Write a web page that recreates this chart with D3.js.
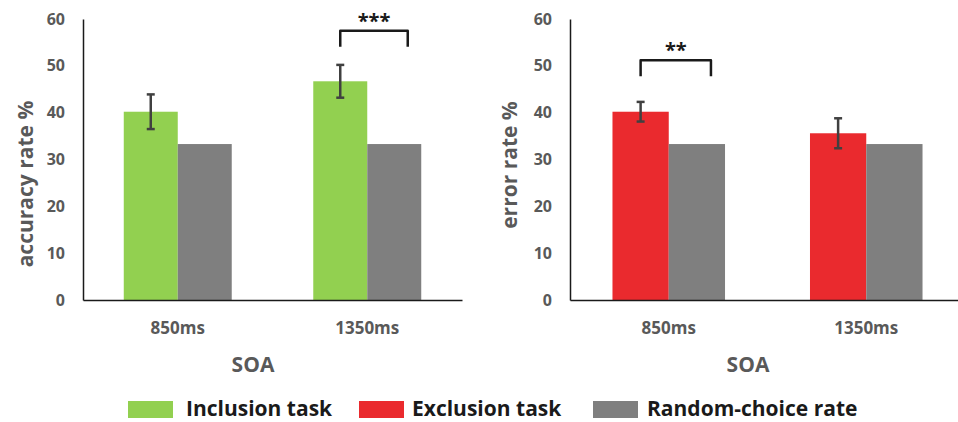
<!DOCTYPE html>
<html>
<head>
<meta charset="utf-8">
<script src="https://cdn.jsdelivr.net/npm/d3@7"></script>
<style>
  body { margin: 0; background: #fff; }
  text { font-family: "Open Sans", sans-serif; font-weight: 700; }
</style>
</head>
<body>
<div id="chart"></div>
<script>
// data
const categories = ["850ms", "1350ms"];
const inclusionMean = [40.2, 46.7];
const inclusionErr = [3.7, 3.5];
const exclusionMean = [40.2, 35.6];
const exclusionErr = [2.1, 3.2];
const randomRate = [33.3, 33.3];
const yTicks = [0, 10, 20, 30, 40, 50, 60];
const legendLabels = ["Inclusion task", "Exclusion task", "Random-choice rate"];

const green = "#92d050", red = "#ea2a2e", gray = "#7f7f7f";
const textGray = "#595959";

const svg = d3.select("#chart")
  .append("svg")
    .attr("width", 958)
    .attr("height", 422);

const y = d3.scaleLinear().domain([0, 60]).range([300, 19]);

function panel(opts) {
  const g = svg.append("g");

  const x = d3.scaleBand()
    .domain(categories)
    .range([opts.x0, opts.x1]);

  const xi = d3.scaleBand()
    .domain(["task", "random"])
    .range([0, x.bandwidth()])
    .paddingOuter(0.755);

  const rows = categories.map((c, i) => ({
    cat: c, mean: opts.mean[i], err: opts.err[i], rnd: randomRate[i]
  }));

  // bars
  g.selectAll("rect.task")
    .data(rows)
    .enter()
    .append("rect")
      .attr("x", d => x(d.cat) + xi("task"))
      .attr("y", d => y(d.mean))
      .attr("width", xi.bandwidth())
      .attr("height", d => y(0) - y(d.mean))
      .style("fill", opts.color);

  g.selectAll("rect.rnd")
    .data(rows)
    .enter()
    .append("rect")
      .attr("x", d => x(d.cat) + xi("random"))
      .attr("y", d => y(d.rnd))
      .attr("width", xi.bandwidth())
      .attr("height", d => y(0) - y(d.rnd))
      .style("fill", gray);

  // error bars
  const cx = d => x(d.cat) + xi("task") + xi.bandwidth() / 2;
  const eb = g.selectAll("g.err")
    .data(rows)
    .enter()
    .append("g")
      .style("stroke", "#404040")
      .style("stroke-width", 2.5);
  eb.append("line")
    .attr("x1", cx).attr("x2", cx)
    .attr("y1", d => y(d.mean + d.err))
    .attr("y2", d => y(d.mean - d.err));
  eb.append("line")
    .attr("x1", d => cx(d) - 4).attr("x2", d => cx(d) + 4)
    .attr("y1", d => y(d.mean + d.err)).attr("y2", d => y(d.mean + d.err));
  eb.append("line")
    .attr("x1", d => cx(d) - 4).attr("x2", d => cx(d) + 4)
    .attr("y1", d => y(d.mean - d.err)).attr("y2", d => y(d.mean - d.err));

  // y axis
  const yAxis = g.append("g")
    .attr("transform", `translate(${opts.x0}, 0)`)
    .call(d3.axisLeft(y).tickValues(yTicks).tickSize(0).tickPadding(18));
  yAxis.select(".domain").attr("stroke", "#1a1a1a").attr("stroke-width", 1.5);
  yAxis.selectAll("text")
    .style("font-size", "16px")
    .style("font-family", "Open Sans")
    .style("font-weight", 700)
    .attr("fill", textGray);

  // x axis
  const xAxis = g.append("g")
    .attr("transform", `translate(0, ${y(0)})`)
    .call(d3.axisBottom(x).tickSize(0).tickPadding(22));
  xAxis.select(".domain").attr("stroke", "#1a1a1a").attr("stroke-width", 1.5);
  xAxis.selectAll("text")
    .style("font-size", "17px")
    .style("font-family", "Open Sans")
    .style("font-weight", 700)
    .attr("fill", textGray);

  // axis titles
  g.append("text")
    .attr("x", opts.soaX)
    .attr("y", 372)
    .attr("text-anchor", "middle")
    .style("font-size", "21px")
    .attr("fill", textGray)
    .text("SOA");

  g.append("text")
    .attr("transform", `translate(${opts.labelX}, ${opts.labelY}) rotate(-90)`)
    .attr("text-anchor", "middle")
    .style("font-size", "21px")
    .attr("fill", textGray)
    .text(opts.label);

  // significance bracket
  const s = rows[opts.sigIndex];
  const bx1 = x(s.cat) + xi("task") + xi.bandwidth() / 2;
  const bx2 = x(s.cat) + xi("random") + xi.bandwidth() * 0.75;
  g.append("path")
    .attr("d", `M${bx1},${y(opts.sigLow)} V${y(opts.sigHigh)} H${bx2} V${y(opts.sigLow)}`)
    .attr("fill", "none")
    .attr("stroke", "#1a1a1a")
    .attr("stroke-width", 2.5)
    .attr("stroke-linejoin", "round");
  g.append("text")
    .attr("x", (bx1 + bx2) / 2)
    .attr("y", y(opts.sigHigh) - 3)
    .attr("text-anchor", "middle")
    .style("font-size", "20px")
    .attr("fill", "#1a1a1a")
    .text(opts.sigLabel);
}

panel({
  x0: 83, x1: 462, mean: inclusionMean, err: inclusionErr, color: green,
  label: "accuracy rate %", labelX: 33, labelY: 184, soaX: 253,
  sigIndex: 1, sigHigh: 57.5, sigLow: 54.1, sigLabel: "***"
});

panel({
  x0: 570, x1: 965, mean: exclusionMean, err: exclusionErr, color: red,
  label: "error rate %", labelX: 517, labelY: 165, soaX: 748,
  sigIndex: 0, sigHigh: 51.2, sigLow: 47.8, sigLabel: "**"
});

// legend
const legendColors = [green, red, gray];
const boxX = [128, 359, 593];
const textX = [186, 412, 647];
const legend = svg.append("g");
legend.selectAll("rect")
  .data(legendLabels)
  .enter()
  .append("rect")
    .attr("x", (d, i) => boxX[i])
    .attr("y", 401)
    .attr("width", 45)
    .attr("height", 17)
    .style("fill", (d, i) => legendColors[i]);
legend.selectAll("text")
  .data(legendLabels)
  .enter()
  .append("text")
    .attr("x", (d, i) => textX[i])
    .attr("y", 416)
    .style("font-size", "21px")
    .attr("fill", "#1a1a1a")
    .text(d => d);
</script>
</body>
</html>
